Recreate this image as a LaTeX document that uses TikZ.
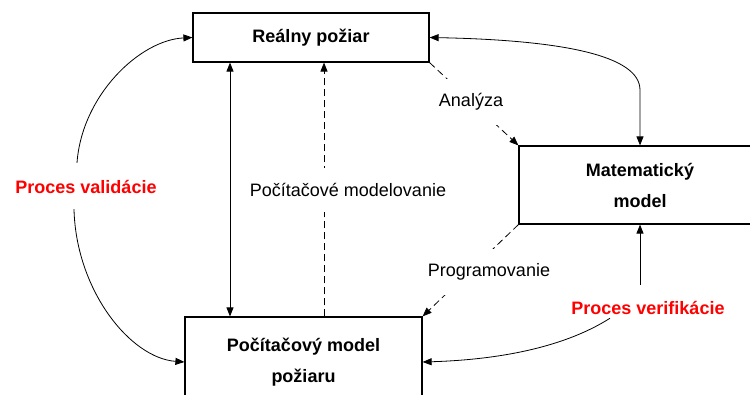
\documentclass[tikz,border=0pt]{standalone}
\usepackage{fontspec}
\setmainfont{Liberation Sans}
\usetikzlibrary{arrows.meta}
\tikzset{
    flow box/.style = {draw, line width=1.2pt, rectangle, align=center, font=\bfseries\fontsize{18}{31}\selectfont},
    flow edge/.style = {draw, line width=0.8pt},
    flow dash/.style = {flow edge, dash pattern=on 7pt off 4pt},
    flow label/.style = {fill=white, inner xsep=3pt, inner ysep=15pt, font=\fontsize{18}{22}\selectfont},
    proc label/.style = {text=red, font=\bfseries\fontsize{18}{22}\selectfont},
}

\begin{document}
\begin{tikzpicture}[x=1pt, y=-1pt, >={Triangle[length=9pt,width=7pt]}]
        \path[use as bounding box] (0,0) rectangle (750,394);
        \clip (0,0) rectangle (750,394);

        \node[flow box, minimum width=236pt, minimum height=49pt] (R) at (311, 37.5) {Reálny požiar};
        \node[flow box, minimum width=242pt, minimum height=78pt] (M) at (640, 185) {Matematický\\model};
        \node[flow box, minimum width=237pt, minimum height=90pt] (P) at (303.5, 362) {Počítačový model\\požiaru};

        \node[proc label] (valid) at (86, 187) {Proces validácie};
        \node[proc label] (verif) at (648, 308) {Proces verifikácie};

        \draw[flow edge, <->] ([xshift=-81pt]R.south) -- ([xshift=-73.5pt]P.north);
        \draw[flow dash, ->] ([xshift=20.5pt]P.north) -- ([xshift=13pt]R.south);
        \draw[flow dash, ->] (R.south east) -- (M.north west);
        \draw[flow dash, ->] (M.south west) -- (P.north east);
        \draw[flow edge, <->] (R.east) .. controls (560, 40) and (640, 55) .. (640, 90) -- (M.north);

        \draw[flow edge, ->] ([yshift=13pt]verif.north -| M.south) -- (M.south);
        \draw[flow edge, ->] ([xshift=-38pt]verif.south) .. controls (560, 350) and (490, 360) .. (P.east);
        \draw[flow edge, ->] ([xshift=-9pt, yshift=14pt]valid.north) .. controls (82, 95) and (140, 40) .. (R.west);
        \draw[flow edge, ->] ([xshift=-12pt, yshift=-12pt]valid.south) .. controls (76, 290) and (130, 358) .. (P.west);

        \node[flow label] (anal) at (471, 102) {Analýza};
        \node[flow label] (prog) at (489, 272) {Programovanie};
        \node[flow label] (pmod) at (348, 190) {Počítačové modelovanie};
    \end{tikzpicture}
\end{document}
